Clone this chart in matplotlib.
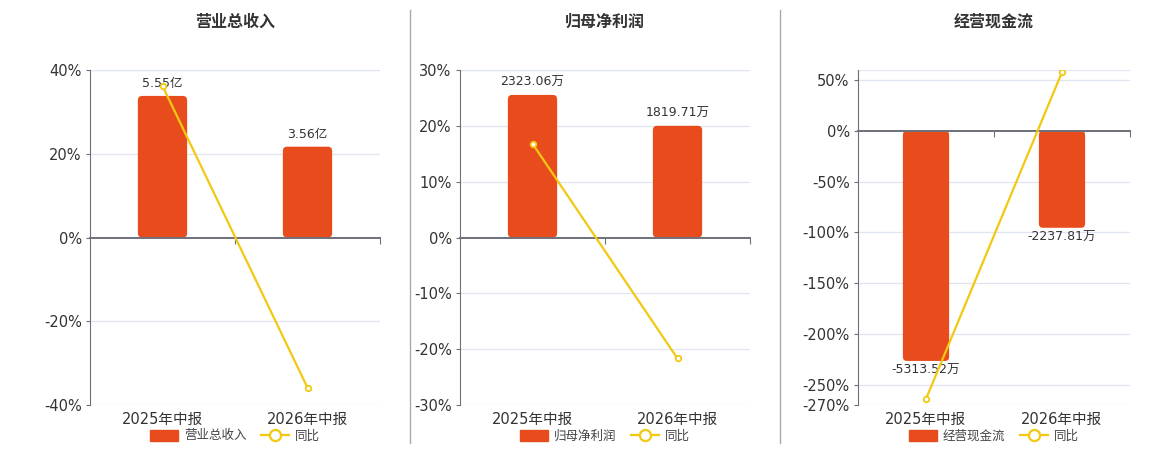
import matplotlib
matplotlib.use('Agg')
import matplotlib.pyplot as plt
from matplotlib.patches import Patch, FancyBboxPatch
from matplotlib.lines import Line2D

plt.rcParams['font.family'] = ['DejaVu Sans', 'Noto Sans CJK SC']

periods = ['2025年中报', '2026年中报']

titles = ['营业总收入', '归母净利润', '经营现金流']

# bar values (in display units) and their labels
revenue = [5.55, 3.56]
revenue_labels = ['5.55亿', '3.56亿']
profit = [2323.06, 1819.71]
profit_labels = ['2323.06万', '1819.71万']
cashflow = [-5313.52, -2237.81]
cashflow_labels = ['-5313.52万', '-2237.81万']

# year-on-year growth, %
revenue_yoy = [36.2, -35.86]
profit_yoy = [16.8, -21.67]
cashflow_yoy = [-264.0, 57.88]

BAR = '#e84c1d'
LINE = '#f2c811'
GRID = '#e0e6f1'
AXIS = '#6e7079'
TXT = '#333333'

fig = plt.figure(figsize=(11.6, 4.5), dpi=100)

panels = [
    dict(left=90, width=290, bars=revenue, labels=revenue_labels, yoy=revenue_yoy,
         ylim=(-40, 40), yticks=[-40, -20, 0, 20, 40], blim=(-6.566, 6.566), title=titles[0]),
    dict(left=460, width=290, bars=profit, labels=profit_labels, yoy=profit_yoy,
         ylim=(-30, 30), yticks=[-30, -20, -10, 0, 10, 20, 30], blim=(-2729, 2729), title=titles[1]),
    dict(left=858, width=272, bars=cashflow, labels=cashflow_labels, yoy=cashflow_yoy,
         ylim=(-270, 60), yticks=[-270, -250, -200, -150, -100, -50, 0, 50], blim=(-6331, 1407),
         title=titles[2]),
]

W, H = 1160.0, 450.0
AX_H = 335.0
for p in panels:
    ax = fig.add_axes([p['left'] / W, 45 / H, p['width'] / W, AX_H / H])
    bx = ax.twinx()
    ax.set_zorder(bx.get_zorder() + 1)
    ax.patch.set_visible(False)

    x = list(range(len(periods)))
    ax.set_xlim(-0.5, len(periods) - 0.5)
    ax.set_ylim(*p['ylim'])
    bx.set_ylim(*p['blim'])

    # grid lines go under the bars, so they live on the back axes
    for t in [t for t in p['yticks'] if t != 0] + [p['ylim'][1]]:
        bx.add_line(Line2D([0, 1], [t, t], transform=ax.get_yaxis_transform(),
                           color=GRID, lw=0.9, zorder=0))

    bars = bx.bar(x, p['bars'], width=0.34, color=BAR, zorder=3)
    # swap plain bars for slightly rounded ones
    y_per_px = (p['blim'][1] - p['blim'][0]) / AX_H
    x_per_px = len(periods) / p['width']
    for b in bars:
        b.set_visible(False)
        y0 = min(0, b.get_height())
        rb = FancyBboxPatch((b.get_x(), y0), b.get_width(), abs(b.get_height()),
                            boxstyle='round,pad=0,rounding_size=0.03',
                            mutation_aspect=y_per_px / x_per_px,
                            facecolor=BAR, edgecolor='none', zorder=3)
        bx.add_patch(rb)
    bx.set_yticks([])
    for s in bx.spines.values():
        s.set_visible(False)
    for b, v, lab in zip(bars, p['bars'], p['labels']):
        if v >= 0:
            bx.annotate(lab, (b.get_x() + b.get_width() / 2, v), xytext=(0, 4),
                        textcoords='offset points', ha='center', va='bottom', fontsize=9, color=TXT)
        else:
            bx.annotate(lab, (b.get_x() + b.get_width() / 2, v), xytext=(0, -2),
                        textcoords='offset points', ha='center', va='top', fontsize=9, color=TXT)

    ax.plot(x, p['yoy'], color=LINE, lw=1.6, marker='o', ms=4, mfc='white', mec=LINE, mew=1.3, zorder=5)
    ax.set_yticks(p['yticks'])
    ax.set_yticklabels([f'{t}%' for t in p['yticks']])
    ax.tick_params(axis='y', length=3, color=AXIS, labelsize=10.5, labelcolor=TXT, pad=3)
    ax.spines['top'].set_visible(False)
    ax.spines['right'].set_visible(False)
    ax.spines['left'].set_color(AXIS)
    ax.spines['bottom'].set_position(('data', 0))
    ax.spines['bottom'].set_color(AXIS)
    ax.spines['bottom'].set_linewidth(1.4)
    ax.set_xticks([0.5, 1.5])
    ax.set_xticklabels([])
    ax.tick_params(axis='x', length=4, color=AXIS, direction='out')

    for i, lab in zip(x, periods):
        ax.text(i, -0.02, lab, transform=ax.get_xaxis_transform(), ha='center', va='top',
                fontsize=10.5, color=TXT)

    cx = (p['left'] + p['width'] / 2) / W
    fig.text(cx, 1 - 22 / H, p['title'], ha='center', va='center', fontsize=11.5,
             fontweight='bold', color=TXT)

    handles = [Patch(facecolor=BAR, edgecolor=BAR),
               Line2D([0], [0], color=LINE, lw=1.6, marker='o', ms=8, mfc='white', mec=LINE, mew=1.6)]
    fig.legend(handles, [p['title'], '同比'], loc='center', bbox_to_anchor=(cx, 1 - 436 / H),
               ncol=2, frameon=False, fontsize=9, handlelength=2.2, handleheight=1.0,
               columnspacing=1.2, handletextpad=0.5, labelcolor='#444444')

for xs in [410, 780]:
    fig.add_artist(Line2D([xs / W, xs / W], [1 - 10 / H, 1 - 443 / H], color='#aaaaaa', lw=1))

fig.savefig('out.png', dpi=100, facecolor='white')
